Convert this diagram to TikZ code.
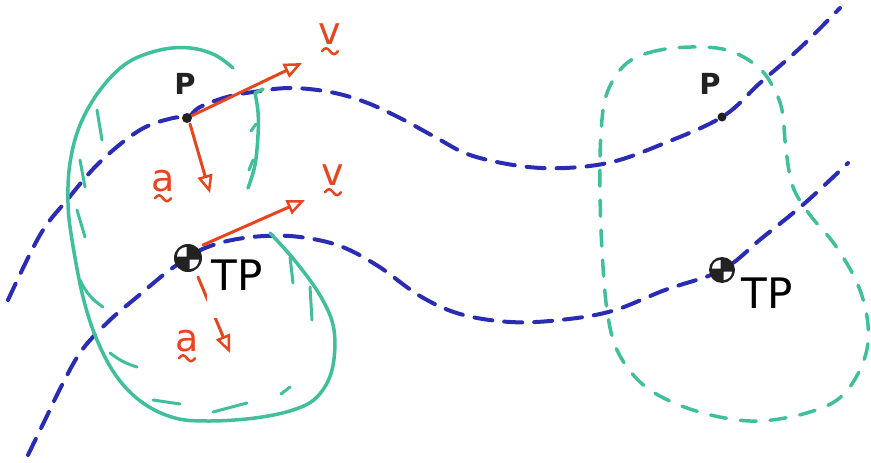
\documentclass[tikz,border=0pt]{standalone}
\usepackage{fontspec}
\newfontfamily\tpfont{DejaVu Sans}
\usetikzlibrary{arrows.meta}
\definecolor{bodygreen}{HTML}{3FBF9C}
\definecolor{trajblue}{HTML}{2A2CB4}
\definecolor{vecred}{HTML}{E8451E}
\definecolor{inkblack}{HTML}{222222}
\tikzset{
  bodyline/.style={draw=bodygreen, line width=3.5pt, line cap=round, line join=round},
  hatchline/.style={draw=bodygreen, line width=3pt, line cap=round},
  dashbody/.style={draw=bodygreen, line width=3.5pt, dash pattern=on 16pt off 14pt, line cap=round},
  traj/.style={draw=trajblue, line width=4pt, dash pattern=on 18pt off 12pt, line cap=round},
  vecarrow/.style={draw=vecred, line width=3pt, line cap=round,
     -{Triangle[open, length=18pt, width=15pt, line width=2.5pt]}},
  veclabel/.style={text=vecred, font=\tpfont\fontsize{38}{38}\selectfont, inner sep=0pt, anchor=north},
  tildemark/.style={draw=vecred, line width=2.5pt, line cap=round},
  plabel/.style={text=inkblack, font=\tpfont\bfseries\fontsize{29}{29}\selectfont, inner sep=0pt},
  tplabel/.style={text=black, font=\tpfont\fontsize{42}{42}\selectfont},
}
\newcommand\undertilde[1]{%
  \draw[tildemark] ([xshift=-8pt,yshift=-6pt]#1.south) sin ++(4,-3) cos ++(4,3) sin ++(4,3) cos ++(4,-3);
}
\newcommand\cmsymbol[2]{%
  \fill[inkblack] (#1) circle (#2);
  \fill[white] (#1) ++(1.5,1.5) -- ++(#2-4.5,0) arc[start angle=0, end angle=90, radius=#2-4.5] -- cycle;
  \fill[white] (#1) ++(-1.5,-1.5) -- ++(-#2+4.5,0) arc[start angle=180, end angle=270, radius=#2-4.5] -- cycle;
}
\begin{document}
\begin{tikzpicture}[x=1pt,y=-1pt]
\useasboundingbox (0,0) rectangle (871,463);
\fill[white] (0,0) rectangle (871,463);

% named points
\coordinate (P) at (187,118);
\coordinate (TP) at (188,258);
\coordinate (P2) at (722,117);
\coordinate (TP2) at (722,270);

% trajectories
\draw[traj] plot[smooth, tension=0.6] coordinates {(8,300) (40,235) (67,200) (100,162) (140,130) (173,118) (P) (200,107) (227,97) (253,92) (290,88) (330,92) (365,102) (400,118) (435,137) (470,155) (520,166) (565,168) (612,162) (660,145) (P2) (760,83) (800,48) (840,8)};
\draw[traj] plot[smooth, tension=0.6] coordinates {(28,455) (45,420) (62,385) (82,350) (110,320) (137,297) (167,272) (TP) (205,248) (232,240) (265,236) (300,237) (340,246) (378,266) (420,296) (460,314) (510,322) (560,320) (612,311) (665,290) (TP2) (762,238) (805,203) (848,163)};

% left body
\draw[bodyline] plot[smooth, tension=0.6] coordinates {(233,68) (215,55) (190,48) (160,50) (127,63) (100,90) (80,125) (70,163) (68,203) (72,240) (83,297) (97,340) (117,377) (143,403) (175,418) (210,421) (255,418) (293,410) (317,397) (332,370) (334,330) (321,297) (296,262) (270,233)};
\draw[bodyline] (263,89) -- (255,93) plot[smooth, tension=0.6] coordinates {(255,93) (258,112) (258,135) (255,165) (248,188)};
% hatching
\draw[hatchline] (97,110) -- (102,140);
\draw[hatchline] (80,160) -- (85,187);
\draw[hatchline] (77,210) -- (85,237);
\draw[hatchline] (80,280) to[bend right=15] (103,307);
\draw[hatchline] (110,353) to[bend right=10] (137,367);
\draw[hatchline] (153,400) -- (180,404);
\draw[hatchline] (213,412) -- (247,403);
\draw[hatchline] (281,394) -- (290,387);
\draw[hatchline] (290,257) -- (293,283);
\draw[hatchline] (310,287) -- (312,320);
\draw[hatchline] (251,131) -- (256,124);
\draw[hatchline] (249,170) -- (253,160);

% right body (dashed)
\draw[dashbody] plot[smooth cycle, tension=0.6] coordinates {(703,47) (660,50) (627,63) (607,93) (601,133) (600,190) (602,250) (607,310) (617,350) (640,382) (672,402) (715,416) (760,421) (810,412) (843,395) (864,360) (868,325) (858,285) (835,245) (810,215) (793,187) (786,150) (782,110) (772,85) (758,67) (733,52)};

% vectors
\coordinate (Pv) at (302,63);
\coordinate (Pa) at (210,193);
\coordinate (Ps) at (190,124);
\coordinate (TPvs) at (203,245);
\coordinate (TPv) at (305,200);
\coordinate (TPas) at (198,277);
\coordinate (TPa) at (230,353);
\draw[vecarrow] (P) -- (Pv);
\draw[vecarrow] (Ps) -- (Pa);
\draw[vecarrow] (TPvs) -- (TPv);
\draw[vecarrow] (TPas) -- (TPa);

\node[veclabel] (lv1) at (330,24) {v};
\node[veclabel] (la1) at (163,170) {a};
\node[veclabel] (lv2) at (333,165) {v};
\node[veclabel] (la2) at (187,330) {a};
\undertilde{lv1}
\undertilde{la1}
\undertilde{lv2}
\undertilde{la2}

% points P
\fill[inkblack] (P) circle (5);
\fill[inkblack] (P2) circle (4.5);
\node[plabel] (lp1) at (185,84) {P};
\node[plabel] (lp2) at (710,84) {P};

% TP labels
\node[tplabel, fill=white, anchor=north west, inner sep=3pt, text height=31pt, text depth=25pt, minimum width=60pt] (ltp1) at (207,256) {TP};
\node[tplabel, anchor=center, inner sep=1pt] (ltp2) at (767,293) {TP};

% centre of mass symbols
\cmsymbol{TP}{14}
\cmsymbol{TP2}{13}
\end{tikzpicture}
\end{document}
